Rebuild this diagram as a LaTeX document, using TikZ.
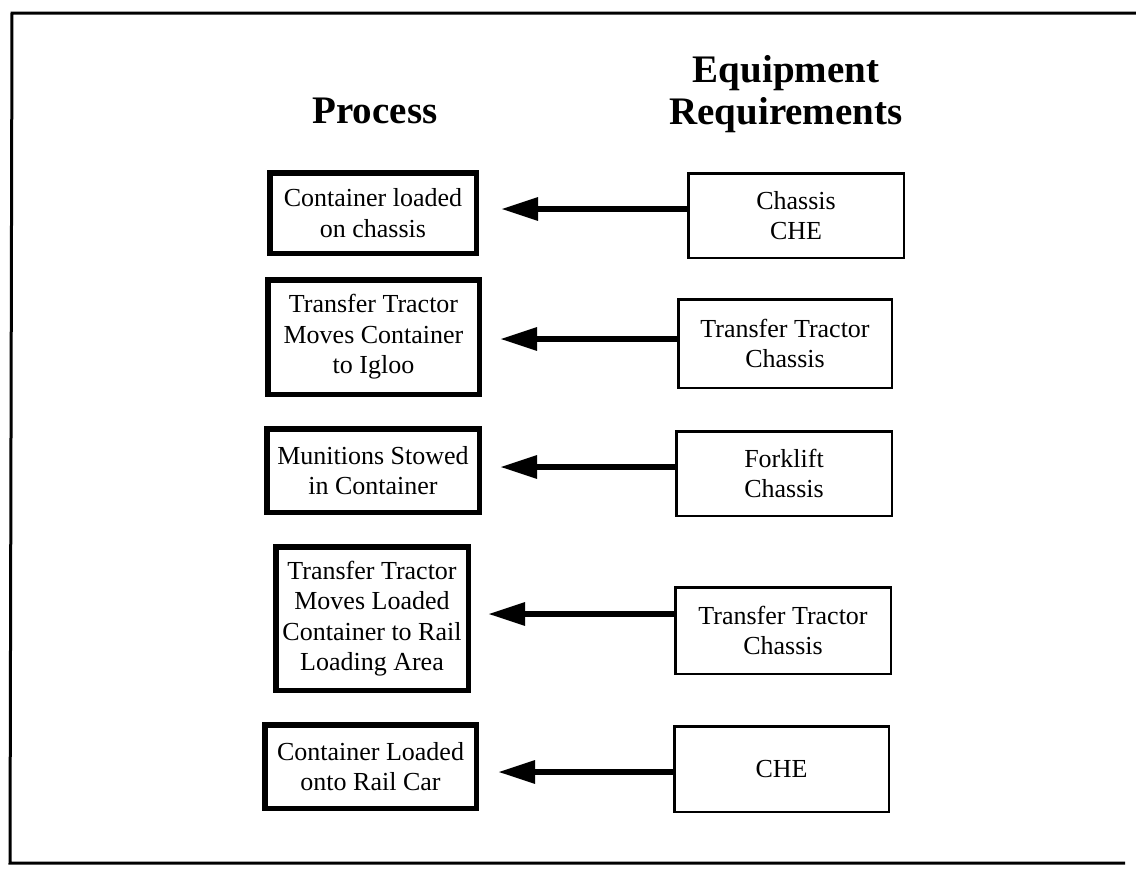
\documentclass[tikz,border=0pt]{standalone}
\usepackage{fontspec}
\setmainfont{Liberation Serif}
\usetikzlibrary{arrows.meta}
\begin{document}
\begin{tikzpicture}[x=1pt,y=-1pt,
  procbox/.style={draw, line width=5.5pt, rectangle, inner sep=0pt, align=center,
    font=\fontsize{26}{30.5}\selectfont},
  eqbox/.style={draw, line width=2.5pt, rectangle, inner sep=0pt, align=center,
    font=\fontsize{26}{30.5}\selectfont},
  head/.style={font=\fontsize{39}{42}\selectfont\bfseries, inner sep=0pt, anchor=base},
  arr/.style={line width=6pt, -{Triangle[length=37pt,width=22pt]}}]
\useasboundingbox (0,0) rectangle (1136,870);
% outer frame
\draw[line width=3pt] (1140,13) -- (12,13) -- (10,863) -- (1125,863);
% headers
\node[head] (hp) at (375,123) {Process};
\node[head] (he1) at (786,82) {Equipment};
\node[head] (he2) at (786,124) {Requirements};
% process boxes
\node[procbox, minimum width=206.5pt, minimum height=80.5pt] (l1) at (373,213) {Container loaded\\on chassis};
\node[procbox, minimum width=211.5pt, minimum height=114.5pt] (l2) at (373.5,337) {Transfer Tractor\\Moves Container\\to Igloo};
\node[procbox, minimum width=212.5pt, minimum height=83.5pt] (l3) at (373,470.5) {Munitions Stowed\\in Container};
\node[procbox, minimum width=192.5pt, minimum height=143.5pt] (l4) at (372,618.5) {Transfer Tractor\\Moves Loaded\\Container to Rail\\Loading Area};
\node[procbox, minimum width=211.5pt, minimum height=83.5pt] (l5) at (370.5,766.5) {Container Loaded\\onto Rail Car};
% equipment boxes
\node[eqbox, minimum width=215.5pt, minimum height=84.5pt] (r1) at (796,215.5) {Chassis\\CHE};
\node[eqbox, minimum width=213.5pt, minimum height=88.5pt] (r2) at (785,343.5) {Transfer Tractor\\Chassis};
\node[eqbox, minimum width=215.5pt, minimum height=84.5pt] (r3) at (784,473.5) {Forklift\\Chassis};
\node[eqbox, minimum width=215.5pt, minimum height=86.5pt] (r4) at (783,630.5) {Transfer Tractor\\Chassis};
\node[eqbox, minimum width=214.5pt, minimum height=85.5pt] (r5) at (781.5,769) {CHE};
% arrow tips
\coordinate (t1) at (501,209);
\coordinate (t2) at (500,339);
\coordinate (t3) at (500,467);
\coordinate (t4) at (488,614);
\coordinate (t5) at (498,772);
\draw[arr] (r1.west |- t1) -- (t1);
\draw[arr] (r2.west |- t2) -- (t2);
\draw[arr] (r3.west |- t3) -- (t3);
\draw[arr] (r4.west |- t4) -- (t4);
\draw[arr] (r5.west |- t5) -- (t5);
\end{tikzpicture}
\end{document}
